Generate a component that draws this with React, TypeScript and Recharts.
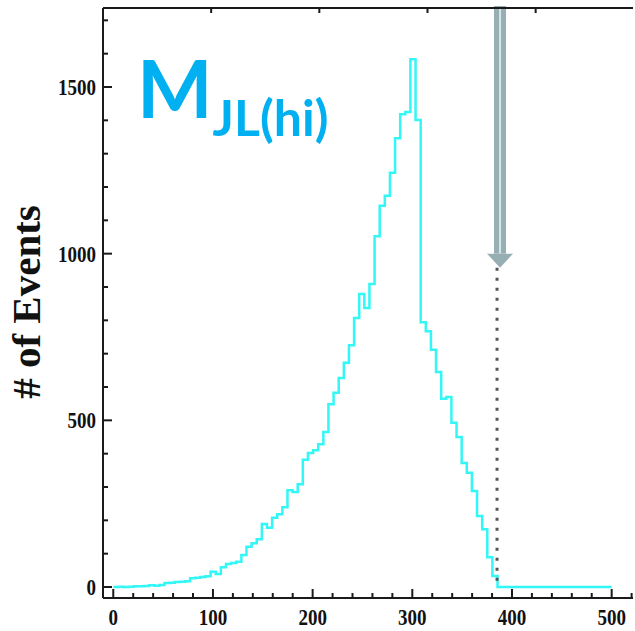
import { LineChart, Line, XAxis, YAxis, ReferenceLine } from "recharts";

// bin width of the histogram (GeV), bins start at 0
const BIN = 5.14;

// events per bin
const counts = [
  0, 1, 0, 1, 2, 2, 3, 5, 4, 6,
  12, 13, 15, 16, 17, 26, 28, 30, 32, 46,
  39, 59, 69, 72, 76, 96, 121, 131, 143, 189,
  178, 208, 218, 239, 290, 285, 308, 382, 402, 410,
  428, 465, 548, 583, 627, 673, 725, 807, 879, 837,
  909, 1052, 1144, 1174, 1243, 1346, 1418, 1425, 1583, 1401,
  794, 767, 712, 645, 565, 570, 493, 450, 372, 343,
  288, 213, 173, 89, 33, 0, 0, 0, 0, 0,
  0, 0, 0, 0, 0, 0, 0, 0, 0, 0,
  0, 0, 0, 0, 0, 0, 0, 0,
];

const xTicks = [
  0, 20, 40, 60, 80, 100, 120, 140, 160, 180, 200, 220, 240, 260, 280,
  300, 320, 340, 360, 380, 400, 420, 440, 460, 480, 500, 520,
];
const xLabels = [0, 100, 200, 300, 400, 500];
const yTicks = [
  0, 100, 200, 300, 400, 500, 600, 700, 800, 900, 1000, 1100, 1200, 1300,
  1400, 1500, 1600, 1700,
];
const yLabels = [0, 500, 1000, 1500];

const X_MAX = 500;
const CUT = 385; // dotted cut line
const ARROW_X = 388;
const ARROW_TOP = 1743;
const ARROW_TIP = 958;

const data = counts.map((c, i) => ({ mass: i * BIN, count: c }));
data.push({ mass: X_MAX, count: counts[counts.length - 1] });

const AXIS = "#1a1a1a";
const SERIF = "'Liberation Serif', 'Times New Roman', serif";

const label = (txt: number, x: number, y: number, anchor: string) => (
  <text
    transform={`translate(${x},${y}) scale(1,1.2)`}
    textAnchor={anchor}
    fontFamily={SERIF}
    fontWeight="bold"
    fontSize={19}
    fill="#111"
  >
    {txt}
  </text>
);

const BottomTick = (p: any) => {
  const v = p.payload.value;
  const major = v % 100 === 0;
  return (
    <g>
      <line x1={p.x} x2={p.x} y1={p.y} y2={p.y - (major ? 9 : 5)} stroke={AXIS} strokeWidth={2} />
      {xLabels.includes(v) ? label(v, p.x, p.y + 27, "middle") : null}
    </g>
  );
};

const TopTick = (p: any) => {
  const major = p.payload.value % 100 === 0;
  return <line x1={p.x} x2={p.x} y1={p.y} y2={p.y + (major ? 9 : 5)} stroke={AXIS} strokeWidth={2} />;
};

const LeftTick = (p: any) => {
  const v = p.payload.value;
  const major = v % 500 === 0;
  return (
    <g>
      <line x1={p.x} x2={p.x + (major ? 9 : 5)} y1={p.y} y2={p.y} stroke={AXIS} strokeWidth={2} />
      {yLabels.includes(v) ? label(v, p.x - 7, p.y + 8, "end") : null}
    </g>
  );
};

const ArrowShape = (p: any) => {
  const cx = p.x1;
  const top = Math.min(p.y1, p.y2);
  const tip = Math.max(p.y1, p.y2);
  const head = 14;
  return (
    <g>
      <rect x={cx - 6} y={top} width={12} height={tip - head - top} fill="#97afb3" />
      <rect x={cx - 1} y={top + 3} width={2} height={tip - head - top - 3} fill="#d3e6e8" />
      <polygon points={`${cx - 13},${tip - head} ${cx + 13},${tip - head} ${cx},${tip}`} fill="#97afb3" />
    </g>
  );
};

export default function App() {
  return (
    <div style={{ position: "absolute", left: 0, top: 0, width: 635, height: 631, background: "#fff" }}>
      <LineChart
        width={635}
        height={631}
        data={data}
        margin={{ top: 7, right: 2, bottom: 32, left: 102 }}
      >
        <XAxis
          dataKey="mass"
          type="number"
          domain={[-10.3, 521.4]}
          allowDataOverflow
          ticks={xTicks}
          interval={0}
          height={1}
          tickSize={0}
          tickMargin={0}
          tickLine={false}
          axisLine={{ stroke: AXIS, strokeWidth: 2 }}
          tick={BottomTick}
        />
        <XAxis
          xAxisId="top"
          orientation="top"
          type="number"
          domain={[-10.3, 521.4]}
          allowDataOverflow
          ticks={xTicks}
          interval={0}
          height={1}
          tickSize={0}
          tickMargin={0}
          tickLine={false}
          axisLine={{ stroke: AXIS, strokeWidth: 2 }}
          tick={TopTick}
        />
        <YAxis
          type="number"
          domain={[-33, 1737]}
          allowDataOverflow
          ticks={yTicks}
          interval={0}
          width={1}
          tickSize={0}
          tickMargin={0}
          tickLine={false}
          axisLine={{ stroke: AXIS, strokeWidth: 2 }}
          tick={LeftTick}
        />
        <Line
          type="stepAfter"
          dataKey="count"
          stroke="#33f6f6"
          strokeWidth={2.5}
          dot={false}
          isAnimationActive={false}
        />
        <ReferenceLine
          segment={[{ x: CUT, y: ARROW_TIP }, { x: CUT, y: 0 }]}
          stroke="#555"
          strokeWidth={3}
          strokeDasharray="3 7"
          ifOverflow="visible"
        />
        <ReferenceLine
          segment={[{ x: ARROW_X, y: ARROW_TOP }, { x: ARROW_X, y: ARROW_TIP }]}
          ifOverflow="visible"
          shape={ArrowShape}
        />
      </LineChart>
      <svg
        width={635}
        height={631}
        style={{ position: "absolute", left: 0, top: 0, pointerEvents: "none" }}
      >
        <text
          x={137}
          y={118}
          fontFamily="Lato, 'Open Sans', sans-serif"
          fontWeight="bold"
          fontSize={80}
          fill="#00b0f0"
        >
          M
          <tspan fontSize={50} dy={18}>
            JL(hi)
          </tspan>
        </text>
        <text
          x={40}
          y={302}
          transform="rotate(-90, 40, 302)"
          textAnchor="middle"
          fontFamily={SERIF}
          fontWeight="bold"
          fontSize={41}
          fill="#111"
        >
          # of Events
        </text>
      </svg>
    </div>
  );
}
